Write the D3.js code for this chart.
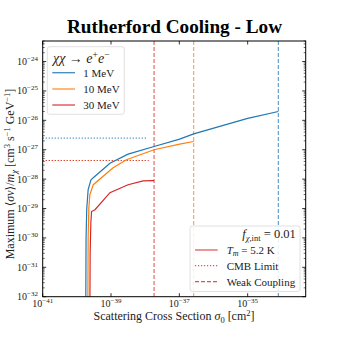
<!DOCTYPE html>
<html>
<head>
<meta charset="utf-8">
<script src="https://cdn.jsdelivr.net/npm/d3@7"></script>
<style>
  body { margin: 0; background: #fff; }
  svg { display: block; font-family: 'Liberation Serif', 'DejaVu Serif', serif; }
</style>
</head>
<body>
<svg id="canvas" width="340" height="340"></svg>
<script>
// masses in the legend
let masses = ['1 MeV', '10 MeV', '30 MeV']
let colors = ['#1f77b4', '#ff7f0e', '#d62728']

// curves: sigma0 [cm^2] and max <sigma v>/m [cm^3 s^-1 GeV^-1]
let sigma1 = [1.82e-40, 1.86e-40, 1.95e-40, 2.14e-40, 2.57e-40, 3.02e-40, 9.3e-40, 3.16e-39, 1.82e-38, 1.02e-37, 2.63e-37, 1.0e-35, 7.9e-35]
let limit1 = [3.2e-33, 1e-30, 1e-29, 4.4e-29, 9.3e-29, 1.12e-28, 3.47e-28, 7.1e-28, 1.29e-27, 2.29e-27, 3.47e-27, 1.17e-26, 2.0e-26]

let sigma10 = [2.09e-40, 2.14e-40, 2.24e-40, 2.4e-40, 3.02e-40, 1.15e-39, 2.82e-39, 1.82e-38, 1.02e-37, 2.63e-37]
let limit10 = [3.2e-33, 1e-30, 1e-29, 2.95e-29, 6.46e-29, 2.45e-28, 4.57e-28, 1e-27, 1.55e-27, 1.91e-27]

let sigma30 = [2.4e-40, 2.45e-40, 2.57e-40, 2.69e-40, 3.39e-40, 9.3e-40, 3.16e-39, 8.7e-39, 1.82e-38]
let limit30 = [3.2e-33, 3.2e-31, 3.2e-30, 7.9e-30, 9.1e-30, 3.47e-29, 6.46e-29, 8.7e-29, 8.9e-29]

// weak coupling sigma (vertical dashed) and CMB limits (horizontal dotted)
let weakCoupling = [7.9e-35, 2.63e-37, 1.82e-38]
let cmbLimit = [2.5e-27, 4.3e-28, 4.3e-28]
let cmbEnd = [1.05e-38, 1.05e-38, 1.35e-38]

let xTicks = [1e-41, 1e-39, 1e-37, 1e-35]
let xTickExp = ['−41', '−39', '−37', '−35']
let yTickExp = [-32, -31, -30, -29, -28, -27, -26, -25, -24]

let curves = [
    sigma1.map((s, i) => [s, limit1[i]]),
    sigma10.map((s, i) => [s, limit10[i]]),
    sigma30.map((s, i) => [s, limit30[i]])
]

let canvas = d3.select('#canvas')

let pLeft = 42.7, pRight = 305.7, pTop = 41, pBottom = 296.7

let x = d3.scaleLog().domain([1e-41, 5e-34]).range([pLeft, pRight])
let y = d3.scaleLog().domain([1e-32, 5e-24]).range([pBottom, pTop])

canvas.append('defs').append('clipPath').attr('id', 'clip')
    .append('rect')
    .attr('x', pLeft).attr('y', pTop)
    .attr('width', pRight - pLeft).attr('height', pBottom - pTop)

let plot = canvas.append('g').attr('clip-path', 'url(#clip)')

// weak coupling lines
plot.selectAll('.weak')
    .data(weakCoupling)
    .enter()
    .append('line')
    .attr('x1', (d) => x(d)).attr('x2', (d) => x(d))
    .attr('y1', pTop).attr('y2', pBottom)
    .attr('stroke', (d, i) => colors[i])
    .attr('stroke-width', 1.1)
    .attr('stroke-dasharray', '4,2')
    .attr('opacity', 0.75)

// CMB limits
plot.selectAll('.cmb')
    .data(cmbLimit)
    .enter()
    .append('line')
    .attr('x1', x(1e-41)).attr('x2', (d, i) => x(cmbEnd[i]))
    .attr('y1', (d) => y(d)).attr('y2', (d) => y(d))
    .attr('stroke', (d, i) => colors[i])
    .attr('stroke-width', 1.2)
    .attr('stroke-dasharray', '1.2,1.8')
    .attr('opacity', 0.8)

let line = d3.line().x((d) => x(d[0])).y((d) => y(d[1]))

plot.selectAll('.curve')
    .data(curves)
    .enter()
    .append('path')
    .attr('d', line)
    .attr('fill', 'none')
    .attr('stroke', (d, i) => colors[i])
    .attr('stroke-width', 1.2)

// frame
canvas.append('rect')
    .attr('x', pLeft).attr('y', pTop)
    .attr('width', pRight - pLeft).attr('height', pBottom - pTop)
    .attr('fill', 'none').attr('stroke', '#000').attr('stroke-width', 1)

// x ticks, inward on both sides
xTicks.forEach((t, i) => {
    let px = x(t)
    canvas.append('line').attr('x1', px).attr('x2', px).attr('y1', pBottom).attr('y2', pBottom - 3.5).attr('stroke', '#000').attr('stroke-width', 0.8)
    canvas.append('line').attr('x1', px).attr('x2', px).attr('y1', pTop).attr('y2', pTop + 3.5).attr('stroke', '#000').attr('stroke-width', 0.8)
    let label = canvas.append('text').attr('x', px).attr('y', 307).attr('text-anchor', 'middle').attr('font-size', 10).attr('fill', '#222')
    label.append('tspan').text('10')
    label.append('tspan').attr('dy', -4).attr('font-size', 7).text(xTickExp[i])
})

// y ticks with minor ticks
yTickExp.forEach((e) => {
    let py = y(Math.pow(10, e))
    canvas.append('line').attr('x1', pLeft).attr('x2', pLeft + 3.5).attr('y1', py).attr('y2', py).attr('stroke', '#000').attr('stroke-width', 0.8)
    canvas.append('line').attr('x1', pRight).attr('x2', pRight - 3.5).attr('y1', py).attr('y2', py).attr('stroke', '#000').attr('stroke-width', 0.8)
    let label = canvas.append('text').attr('x', 38).attr('y', py + 3.5).attr('text-anchor', 'end').attr('font-size', 10).attr('fill', '#222')
    label.append('tspan').text('10')
    label.append('tspan').attr('dy', -4).attr('font-size', 7).text('−' + Math.abs(e))
    for (let k = 2; k < 10; k++) {
        let v = k * Math.pow(10, e)
        if (v > 5e-24) continue
        let my = y(v)
        canvas.append('line').attr('x1', pLeft).attr('x2', pLeft + 2).attr('y1', my).attr('y2', my).attr('stroke', '#000').attr('stroke-width', 0.6)
        canvas.append('line').attr('x1', pRight).attr('x2', pRight - 2).attr('y1', my).attr('y2', my).attr('stroke', '#000').attr('stroke-width', 0.6)
    }
})

// title
canvas.append('text')
    .attr('x', 174.5).attr('y', 33)
    .attr('text-anchor', 'middle')
    .attr('font-size', 18).attr('font-weight', 'bold')
    .attr('textLength', 215).attr('lengthAdjust', 'spacingAndGlyphs')
    .text('Rutherford Cooling - Low')

// x label
let xl = canvas.append('text').attr('x', 174).attr('y', 320).attr('text-anchor', 'middle').attr('font-size', 12).attr('fill', '#222')
xl.append('tspan').text('Scattering Cross Section ')
xl.append('tspan').attr('font-style', 'italic').text('σ')
xl.append('tspan').attr('dy', 2.5).attr('font-size', 8.5).text('0')
xl.append('tspan').attr('dy', -2.5).text(' [cm')
xl.append('tspan').attr('dy', -4.5).attr('font-size', 8.5).text('2')
xl.append('tspan').attr('dy', 4.5).text(']')

// y label
let yl = canvas.append('text').attr('transform', 'translate(14,174) rotate(-90)').attr('text-anchor', 'middle').attr('font-size', 12).attr('fill', '#222')
yl.append('tspan').text('Maximum ⟨')
yl.append('tspan').attr('font-style', 'italic').text('σv')
yl.append('tspan').text('⟩/')
yl.append('tspan').attr('font-style', 'italic').text('m')
yl.append('tspan').attr('dy', 2.5).attr('font-size', 8.5).attr('font-style', 'italic').text('χ')
yl.append('tspan').attr('dy', -2.5).text(' [cm')
yl.append('tspan').attr('dy', -4.5).attr('font-size', 8.5).text('3')
yl.append('tspan').attr('dy', 4.5).text(' s')
yl.append('tspan').attr('dy', -4.5).attr('font-size', 8.5).text('−1')
yl.append('tspan').attr('dy', 4.5).text(' GeV')
yl.append('tspan').attr('dy', -4.5).attr('font-size', 8.5).text('−1')
yl.append('tspan').attr('dy', 4.5).text(']')

// legend: masses
let leg1 = canvas.append('g')
leg1.append('rect')
    .attr('x', 47.3).attr('y', 46.7).attr('width', 77).attr('height', 67.6)
    .attr('rx', 2.5).attr('fill', '#fff').attr('fill-opacity', 0.85)
    .attr('stroke', '#d8d8d8').attr('stroke-width', 0.8)
let t1 = leg1.append('text').attr('x', 53).attr('y', 63).attr('font-size', 14).attr('fill', '#222')
t1.append('tspan').attr('font-style', 'italic').text('χχ')
t1.append('tspan').text(' → ')
t1.append('tspan').attr('font-style', 'italic').text('e')
t1.append('tspan').attr('dy', -5.5).attr('font-size', 9.5).text('+')
t1.append('tspan').attr('dy', 5.5).attr('font-style', 'italic').text('e')
t1.append('tspan').attr('dy', -5.5).attr('font-size', 9.5).text('−')

let rows1 = [72.7, 89, 105]
masses.forEach((m, i) => {
    leg1.append('line').attr('x1', 52.3).attr('x2', 75).attr('y1', rows1[i]).attr('y2', rows1[i])
        .attr('stroke', colors[i]).attr('stroke-width', 1.3).attr('opacity', 0.85)
    leg1.append('text').attr('x', 83.3).attr('y', rows1[i] + 3.8).attr('font-size', 11).attr('fill', '#222').text(m)
})

// legend: line styles
let leg2 = canvas.append('g')
leg2.append('rect')
    .attr('x', 190).attr('y', 226).attr('width', 110).attr('height', 65.5)
    .attr('rx', 2.5).attr('fill', '#fff').attr('fill-opacity', 0.85)
    .attr('stroke', '#d8d8d8').attr('stroke-width', 0.8)
let t2 = leg2.append('text').attr('x', 269).attr('y', 238).attr('text-anchor', 'middle').attr('font-size', 12.5).attr('fill', '#222')
t2.append('tspan').attr('font-style', 'italic').text('f')
t2.append('tspan').attr('dy', 3).attr('font-size', 8.5).attr('font-style', 'italic').text('χ')
t2.append('tspan').attr('font-size', 8.5).text(',int')
t2.append('tspan').attr('dy', -3).text(' = 0.01')

let rows2 = [250, 265.7, 281.7]
let dashes = [null, '1.2,1.8', '4,2']
rows2.forEach((r, i) => {
    leg2.append('line').attr('x1', 195).attr('x2', 217.7).attr('y1', r).attr('y2', r)
        .attr('stroke', colors[2]).attr('stroke-width', 1.2).attr('opacity', 0.8)
        .attr('stroke-dasharray', dashes[i])
})
let l1 = leg2.append('text').attr('x', 226.7).attr('y', rows2[0] + 3.8).attr('font-size', 11).attr('fill', '#222')
l1.append('tspan').attr('font-style', 'italic').text('T')
l1.append('tspan').attr('dy', 2.5).attr('font-size', 8).attr('font-style', 'italic').text('m')
l1.append('tspan').attr('dy', -2.5).text(' = 5.2 K')
leg2.append('text').attr('x', 226.7).attr('y', rows2[1] + 3.8).attr('font-size', 11).attr('fill', '#222').text('CMB Limit')
leg2.append('text').attr('x', 226.7).attr('y', rows2[2] + 3.8).attr('font-size', 11).attr('fill', '#222').text('Weak Coupling')
</script>
</body>
</html>
